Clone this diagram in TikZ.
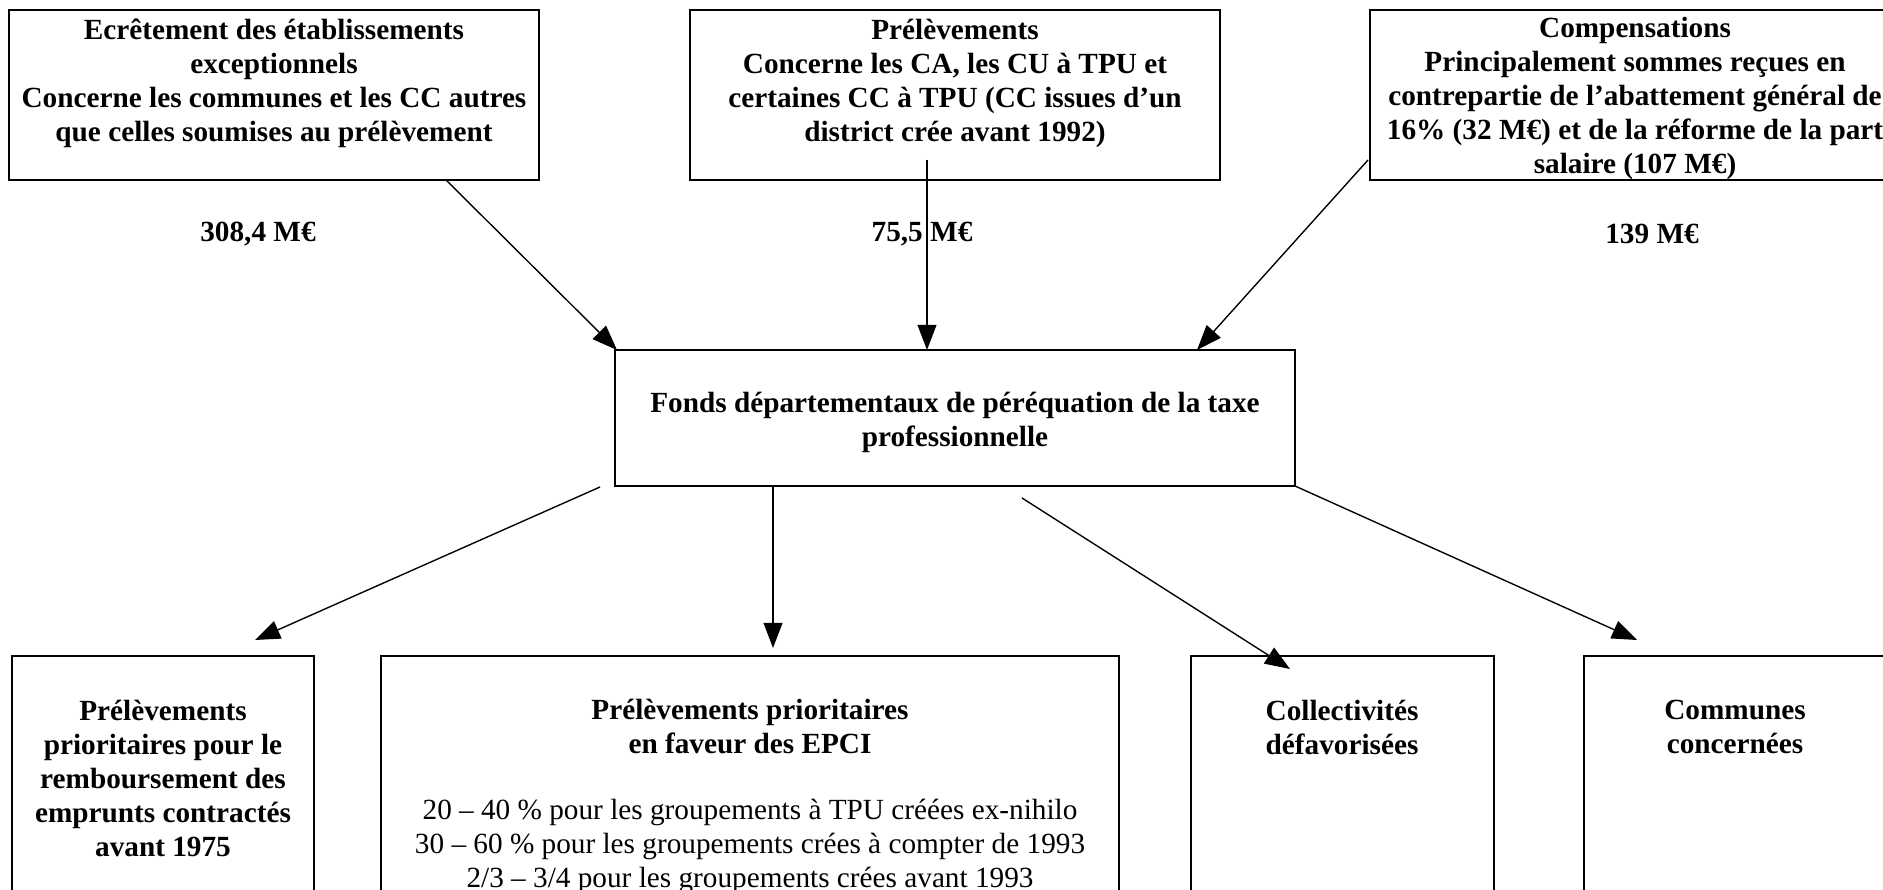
\documentclass[tikz,border=0pt]{standalone}
\usepackage{fontspec}
\setmainfont{Liberation Serif}
\usetikzlibrary{arrows.meta,calc}
\begin{document}
\begin{tikzpicture}[x=0.4pt,y=-0.4pt,
  box/.style={draw,line width=0.8pt,anchor=north west,inner sep=0pt,outer sep=0pt},
  txt/.style={align=center,font=\fontsize{11.7}{13.6}\selectfont\bfseries,inner sep=0pt},
  rtxt/.style={align=center,font=\fontsize{11.7}{13.6}\selectfont,inner sep=0pt},
  arr/.style={line width=0.55pt,-{Triangle[length=10pt,width=7.5pt]}}]
\useasboundingbox (0,0) rectangle (1883,890);
\clip (0,0) rectangle (1883,890);
% top boxes
\node[box,minimum width=212pt,minimum height=68pt] (b1) at (9,10) {};
\node[box,minimum width=212pt,minimum height=68pt] (b2) at (690,10) {};
\node[box,minimum width=212pt,minimum height=68pt] (b3) at (1370,10) {};
\node[txt] (t1) at (274,83) {Ecrêtement des établissements\\exceptionnels\\Concerne les communes et les CC autres\\que celles soumises au prélèvement};
\node[txt] (t2) at (955,83) {Prélèvements\\Concerne les CA, les CU à TPU et\\certaines CC à TPU (CC issues d’un\\district crée avant 1992)};
\node[txt] (t3) at (1635,98) {Compensations\\Principalement sommes reçues en\\contrepartie de l’abattement général de\\16\% (32 M€) et de la réforme de la part\\salaire (107 M€)};
% amounts
\node[txt] (m1) at (258,234) {308,4 M€};
\node[txt] (m2) at (922,234) {75,5 M€};
\node[txt] (m3) at (1652,234) {139 M€};
% centre box
\node[box,minimum width=272pt,minimum height=54.4pt] (c) at (615,350) {};
\node[txt] (tc) at (955,422) {Fonds départementaux de péréquation de la taxe\\professionnelle};
% bottom boxes
\node[box,minimum width=120.8pt,minimum height=97.6pt] (bA) at (12,656) {};
\node[box,minimum width=295.2pt,minimum height=97.6pt] (bB) at (381,656) {};
\node[box,minimum width=121.2pt,minimum height=97.6pt] (bC) at (1191,656) {};
\node[box,minimum width=121.2pt,minimum height=97.6pt] (bD) at (1584,656) {};
\node[txt] (tA) at (163,778) {Prélèvements\\prioritaires pour le\\remboursement des\\emprunts contractés\\avant 1975};
\node[txt] (tB1) at (750,727) {Prélèvements prioritaires\\en faveur des EPCI};
\node[rtxt] (tB2) at (750,846) {20 – 40 \% pour les groupements à TPU créées ex-nihilo\\30 – 60 \% pour les groupements crées à compter de 1993\\2/3 – 3/4 pour les groupements crées avant 1993};
\node[txt] (tC) at (1342,727) {Collectivités\\défavorisées};
\node[txt] (tD) at (1735,727) {Communes\\concernées};
% connectors
\draw[arr] ($(b1.south west)+(437,0)$) -- ($(c.north west)+(2,0)$);
\draw[arr] ($(b2.south west)+(237,-20)$) -- ($(c.north west)+(312,0)$);
\draw[arr] ($(b3.south west)+(-2,-20)$) -- ($(c.north west)+(582,0)$);
\draw[arr] ($(c.south west)+(-15,1)$) -- ($(bA.north west)+(243,-16)$);
\draw[arr] ($(c.south west)+(158,0)$) -- ($(bB.north west)+(392,-8)$);
\draw[arr] ($(c.south west)+(407,12)$) -- ($(bC.north west)+(99,13)$);
\draw[arr] (c.south east) -- ($(bD.north west)+(53,-16)$);
\end{tikzpicture}
\end{document}
